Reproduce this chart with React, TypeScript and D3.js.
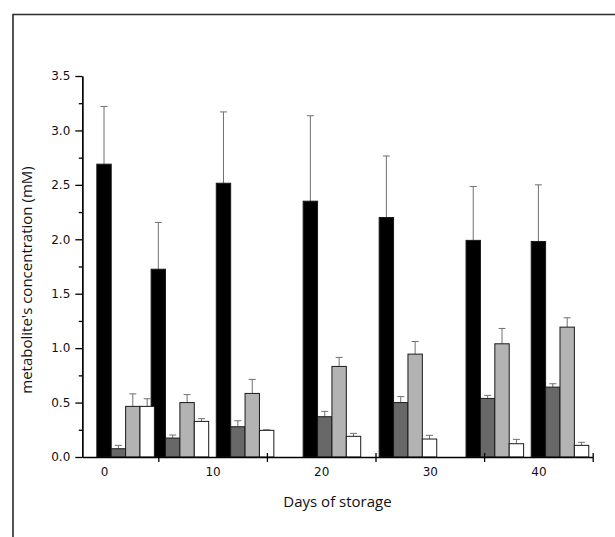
import React, { useEffect, useRef } from 'react';
import * as d3 from 'd3';

// sampling days (centre of the black bar in each group)
const days = [0, 5, 11, 19, 26, 34, 40];

const seriesNames = ['s1', 's2', 's3', 's4'];
const seriesColors = ['#000000', '#686868', '#b3b3b3', '#ffffff'];

const meanS1 = [2.69, 1.725, 2.515, 2.35, 2.2, 1.99, 1.98];
const errS1 = [0.53, 0.43, 0.655, 0.785, 0.565, 0.495, 0.52];
const meanS2 = [0.076, 0.174, 0.278, 0.37, 0.5, 0.538, 0.642];
const errS2 = [0.031, 0.028, 0.055, 0.049, 0.055, 0.028, 0.031];
const meanS3 = [0.465, 0.5, 0.584, 0.832, 0.945, 1.04, 1.193];
const errS3 = [0.115, 0.073, 0.129, 0.083, 0.116, 0.141, 0.086];
const meanS4 = [0.465, 0.327, 0.245, 0.19, 0.165, 0.122, 0.107];
const errS4 = [0.07, 0.025, 0.005, 0.027, 0.034, 0.04, 0.028];

const xLabelTicks = [0, 10, 20, 30, 40];
const xMarkTicks = [5, 15, 25, 35, 45];
const yMajorTicks = [0, 0.5, 1, 1.5, 2, 2.5, 3, 3.5];
const yMinorTicks = [0.25, 0.75, 1.25, 1.75, 2.25, 2.75, 3.25];

const means = [meanS1, meanS2, meanS3, meanS4];
const errs = [errS1, errS2, errS3, errS4];

const App = () => {
  const ref = useRef<SVGSVGElement>(null);

  useEffect(() => {
    const svg = d3.select(ref.current);
    svg.selectAll('*').remove();

    const width = 615;
    const height = 537;
    const tickFont = '"DejaVu Sans", sans-serif';
    const titleFont = '"Open Sans", sans-serif';

    // frame (top + left border of the figure)
    svg.append('path')
      .attr('d', `M13,${height}V14.5H${width}`)
      .attr('fill', 'none')
      .attr('stroke', '#2a2a2a')
      .attr('stroke-width', 1.6);

    const x = d3.scaleLinear().domain([-2, 45]).range([82.3, 592.7]);
    const y = d3.scaleLinear().domain([0, 3.5]).range([457, 76]);
    const barW = x(1.325) - x(0);

    // bars, series by series
    const rows = seriesNames.flatMap((s, k) =>
      days.map((d, i) => ({ s, k, d, v: means[k][i], e: errs[k][i] }))
    );

    const g = svg.append('g');
    const cx = (r: any) => x(r.d) + r.k * barW;

    const bars = g.selectAll('g.bar')
      .data(rows)
      .join('g')
      .attr('class', 'bar');

    // upper error bar with cap
    bars.append('line')
      .attr('x1', cx)
      .attr('x2', cx)
      .attr('y1', (r: any) => y(r.v))
      .attr('y2', (r: any) => y(r.v + r.e))
      .attr('stroke', '#707070')
      .attr('stroke-width', 1);

    bars.append('line')
      .attr('x1', (r: any) => cx(r) - 3.5)
      .attr('x2', (r: any) => cx(r) + 3.5)
      .attr('y1', (r: any) => y(r.v + r.e))
      .attr('y2', (r: any) => y(r.v + r.e))
      .attr('stroke', '#707070')
      .attr('stroke-width', 1);

    bars.append('rect')
      .attr('x', (r: any) => cx(r) - barW / 2)
      .attr('y', (r: any) => y(r.v))
      .attr('width', barW)
      .attr('height', (r: any) => y(0) - y(r.v))
      .attr('fill', (r: any) => seriesColors[r.k])
      .attr('stroke', '#1a1a1a')
      .attr('stroke-width', 1);

    // y axis
    svg.append('g')
      .attr('transform', `translate(${x(-2)},0)`)
      .call(d3.axisLeft(y).tickValues(yMajorTicks).tickFormat(d3.format('.1f')).tickSize(7).tickSizeOuter(0).tickPadding(5));
    svg.append('g')
      .attr('transform', `translate(${x(-2)},0)`)
      .call(d3.axisLeft(y).tickValues(yMinorTicks).tickFormat(() => '').tickSize(3.5).tickSizeOuter(0));

    // x axis: tick marks between the labels
    const xAxis = svg.append('g')
      .attr('transform', `translate(0,${y(0)})`)
      .call(d3.axisBottom(x).tickValues(xMarkTicks).tickFormat(() => '').tickSize(5).tickSizeOuter(0));
    xAxis.selectAll('.tick line').attr('y1', -4);
    svg.append('g')
      .attr('transform', `translate(0,${y(0)})`)
      .call(d3.axisBottom(x).tickValues(xLabelTicks).tickSize(0).tickPadding(10))
      .select('.domain').remove();

    svg.selectAll('.domain, .tick line').attr('stroke', '#000').attr('stroke-width', 1.3);
    svg.selectAll('.tick text')
      .attr('fill', '#111')
      .style('font-family', tickFont)
      .style('font-size', '12px');

    // titles
    svg.append('text')
      .attr('x', 337.5)
      .attr('y', 507)
      .attr('text-anchor', 'middle')
      .attr('fill', '#111')
      .style('font-family', titleFont)
      .style('font-size', '15px')
      .text('Days of storage');

    svg.append('text')
      .attr('transform', 'translate(32,280) rotate(-90)')
      .attr('text-anchor', 'middle')
      .attr('fill', '#111')
      .style('font-family', titleFont)
      .style('font-size', '15px')
      .text("metabolite's concentration (mM)");
  }, []);

  return (
    <svg
      ref={ref}
      width={615}
      height={537}
      style={{ position: 'absolute', left: 0, top: 0, background: '#fff' }}
    />
  );
};

export default App;
